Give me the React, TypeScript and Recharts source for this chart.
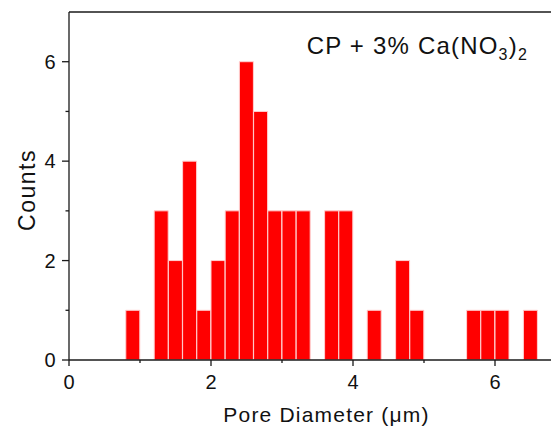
import React from "react";
import { BarChart, Bar, XAxis, YAxis, Label, ReferenceLine } from "recharts";

// histogram of pore diameters, bins of 0.2 um
const binCenters = [
  0.1, 0.3, 0.5, 0.7, 0.9, 1.1, 1.3, 1.5, 1.7, 1.9, 2.1, 2.3, 2.5, 2.7, 2.9, 3.1, 3.3, 3.5,
  3.7, 3.9, 4.1, 4.3, 4.5, 4.7, 4.9, 5.1, 5.3, 5.5, 5.7, 5.9, 6.1, 6.3, 6.5, 6.7, 6.9,
];
const counts = [
  0, 0, 0, 0, 1, 0, 3, 2, 4, 1, 2, 3, 6, 5, 3, 3, 3, 0,
  3, 3, 0, 1, 0, 2, 1, 0, 0, 0, 1, 1, 1, 0, 1, 0, 0,
];
const xTicks = [0, 1, 2, 3, 4, 5, 6, 7];
const xLabelled = [0, 2, 4, 6];
const yTicks = [0, 1, 2, 3, 4, 5, 6];
const yLabelled = [0, 2, 4, 6];

const data = binCenters.map((c, i) => ({ center: c, count: counts[i] }));

const FONT = "Arial, 'Liberation Sans', sans-serif";
const INK = "#1a1a1a";

function XTick(props: any) {
  const { x, y, payload } = props;
  const major = xLabelled.includes(payload.value);
  return (
    <g>
      <line x1={x} x2={x} y1={y} y2={y + (major ? 6 : 3)} stroke={INK} strokeWidth={1.3} />
      {major && (
        <text x={x} y={y + 29} textAnchor="middle" fontSize={20} fontFamily={FONT} fill="#111">
          {payload.value}
        </text>
      )}
    </g>
  );
}

function YTick(props: any) {
  const { x, y, payload } = props;
  const major = yLabelled.includes(payload.value);
  return (
    <g>
      <line x1={x - (major ? 7 : 3.5)} x2={x} y1={y} y2={y} stroke={INK} strokeWidth={1.3} />
      {major && (
        <text x={x - 13.5} y={y} dy="0.355em" textAnchor="end" fontSize={20} fontFamily={FONT} fill="#111">
          {payload.value}
        </text>
      )}
    </g>
  );
}

export default function App() {
  return (
    <div style={{ position: "relative", width: 600, height: 422 }}>
      <style>{"html,body{overflow:hidden}"}</style>
      <BarChart
        width={600}
        height={422}
        data={data}
        margin={{ top: 4, right: 42, bottom: 0, left: 0 }}
        barCategoryGap={0}
        barGap={0}
      >
        <XAxis xAxisId="bins" dataKey="center" orientation="top" height={0} hide />
        <XAxis
          xAxisId="num"
          type="number"
          dataKey="center"
          domain={[0, 7]}
          allowDataOverflow
          ticks={xTicks}
          interval={0}
          tickSize={0}
          tickMargin={0}
          tickLine={false}
          tick={<XTick />}
          height={70}
          axisLine={{ stroke: INK, strokeWidth: 1.3 }}
        >
          <Label
            content={(p: any) => {
              const vb = p.viewBox;
              return (
                <text
                  x={vb.x + vb.width / 2 + 9}
                  y={vb.y + 61.7}
                  textAnchor="middle"
                  fontSize={21}
                  letterSpacing={1.2}
                  fontFamily={FONT}
                  fill="#111"
                >
                  Pore Diameter (μm)
                </text>
              );
            }}
          />
        </XAxis>
        <YAxis
          type="number"
          domain={[0, 7]}
          allowDataOverflow
          ticks={yTicks}
          interval={0}
          width={61}
          tickSize={0}
          tickMargin={0}
          tickLine={false}
          tick={<YTick />}
          axisLine={{ stroke: INK, strokeWidth: 1.3 }}
        >
          <Label
            content={(p: any) => {
              const vb = p.viewBox;
              const cx = 27;
              const cy = vb.y + vb.height / 2 + 4;
              return (
                <text
                  x={cx}
                  y={cy}
                  transform={`rotate(-90, ${cx}, ${cy})`}
                  textAnchor="middle"
                  fontSize={23}
                  letterSpacing={1.5}
                  fontFamily={FONT}
                  fill="#111"
                >
                  Counts
                </text>
              );
            }}
          />
        </YAxis>
        <ReferenceLine xAxisId="num" y={7} stroke={INK} strokeWidth={1.3} />
        <Bar
          dataKey="count"
          xAxisId="bins"
          fill="#ff0000"
          stroke="#ffd0d0"
          strokeWidth={1}
          isAnimationActive={false}
        />
      </BarChart>
      <div
        style={{
          position: "absolute",
          left: 298.7,
          top: 26,
          fontFamily: FONT,
          fontSize: 24,
          lineHeight: "24px",
          letterSpacing: 1.2,
          color: "#111",
          whiteSpace: "nowrap",
        }}
      >
        CP + 3% Ca(NO<span style={{ fontSize: 16, verticalAlign: "-6px" }}>3</span>)
        <span style={{ fontSize: 16, verticalAlign: "-6px" }}>2</span>
      </div>
    </div>
  );
}
